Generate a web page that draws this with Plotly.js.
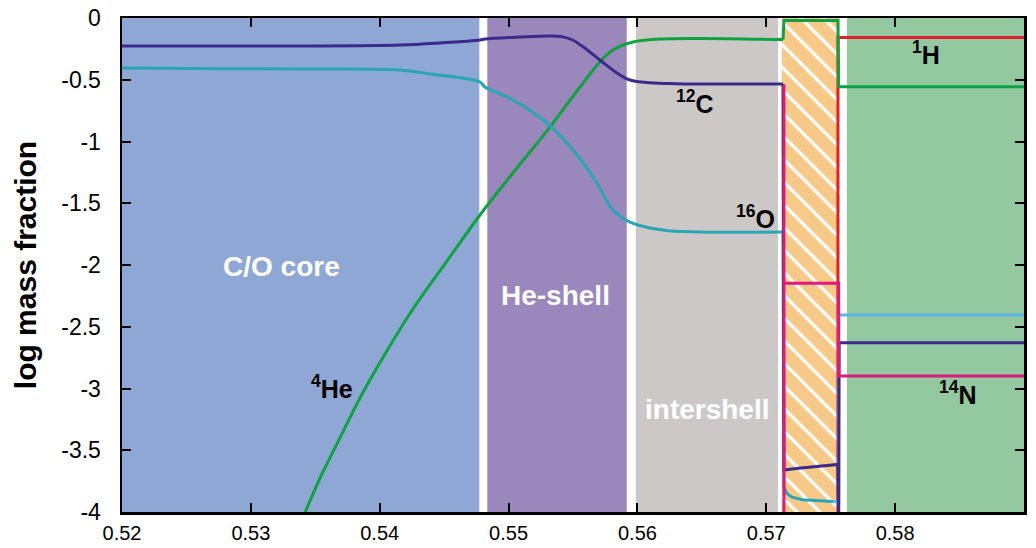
<!DOCTYPE html>
<html>
<head>
<meta charset="utf-8">
<script src="https://cdn.plot.ly/plotly-3.0.1.min.js"></script>
<style>html,body{margin:0;padding:0;background:#fff;}#chart{width:1036px;height:548px;}</style>
</head>
<body>
<div id="chart"></div>
<script>
// ---- data ----
const zoneNames  = ["C/O core", "He-shell", "intershell", "envelope"];
const zoneStart  = [0.5200, 0.54835, 0.55987, 0.57626];
const zoneEnd    = [0.54773, 0.55917, 0.57091, 0.5900];
const zoneColors = ["#8FA7D4", "#9A87BB", "#CDC8C8", "#93C8A0"];

// 13C pocket (hatched)
const pocketStart  = 0.57120;
const pocketEnd    = 0.57568;
const pocketTop    = 0.0;
const pocketBottom = -4.0;

// 12C : smooth profile (core -> intershell), then pocket / envelope steps
const c12_x = [0.5200, 0.52800, 0.53381, 0.54157, 0.54468, 0.54778, 0.54817, 0.55089, 0.55321, 0.55420, 0.55500, 0.55580, 0.55709, 0.55841, 0.55942, 0.56100, 0.56300, 0.56486, 0.57130];
const c12_y = [-0.227, -0.227, -0.227, -0.219, -0.202, -0.178, -0.170, -0.154, -0.146, -0.153, -0.180, -0.235, -0.340, -0.445, -0.502, -0.525, -0.532, -0.534, -0.534];
const c12s_x = [0.57130, 0.57137, 0.5725, 0.5740, 0.57555, 0.57562, 0.57565, 0.5900];
const c12s_y = [-0.534, -3.66, -3.645, -3.63, -3.615, -4.10, -2.63, -2.63];

// 16O
const o16_x = [0.5200, 0.52800, 0.53381, 0.54157, 0.54390, 0.54778, 0.54817, 0.55034, 0.55298, 0.55500, 0.55686, 0.55810, 0.55942, 0.56198, 0.56486, 0.57130];
const o16_y = [-0.405, -0.410, -0.413, -0.421, -0.453, -0.518, -0.559, -0.664, -0.850, -1.069, -1.336, -1.555, -1.652, -1.717, -1.733, -1.733];
const o16s_x = [0.57130, 0.57137, 0.57160, 0.5720, 0.5728, 0.5740, 0.5752];
const o16s_y = [-1.733, -3.80, -3.85, -3.88, -3.90, -3.91, -3.915];
const o16env_x = [0.5752, 0.57562, 0.57562, 0.5900];
const o16env_y = [-3.915, -3.92, -2.405, -2.405];

// 4He
const he4_x = [0.53410, 0.53537, 0.53668, 0.53847, 0.54041, 0.54258, 0.54522, 0.54778, 0.55034, 0.55321, 0.55531, 0.55709, 0.55810, 0.55966, 0.56175, 0.56486, 0.57130];
const he4_y = [-4.03, -3.725, -3.449, -3.077, -2.721, -2.356, -1.968, -1.595, -1.255, -0.883, -0.591, -0.356, -0.259, -0.194, -0.170, -0.165, -0.175];
const he4s_x = [0.57130, 0.57137, 0.57556, 0.57562, 0.5900];
const he4s_y = [-0.175, -0.02, -0.02, -0.556, -0.556];

// 1H
const h1_x = [0.57556, 0.57556, 0.5900];
const h1_y = [-4.10, -0.157, -0.157];

// 14N
const n14_x = [0.57137, 0.57137, 0.57137, 0.57562, 0.57562, 0.5900];
const n14_y = [-4.10, -0.54, -2.148, -2.148, -2.899, -2.899];

// axis ticks
const xTickVals = [0.52, 0.53, 0.54, 0.55, 0.56, 0.57, 0.58, 0.59];
const xTickText = ["0.52", "0.53", "0.54", "0.55", "0.56", "0.57", "0.58", "0.59"];
const yTickVals = [0, -0.5, -1, -1.5, -2, -2.5, -3, -3.5, -4];
const yTickText = ["0", "-0.5", "-1", "-1.5", "-2", "-2.5", "-3", "-3.5", "-4"];

// labels
const zoneLabels = ["C/O core", "He-shell", "intershell"];
const isoLabels  = ["<sup>12</sup>C", "<sup>16</sup>O", "<sup>4</sup>He", "<sup>1</sup>H", "<sup>14</sup>N"];

// ---- chart ----
const FONT = "Liberation Sans, Arial, Helvetica, sans-serif";

const shapes = zoneStart.map((s, i) => ({
  type: "rect", xref: "x", yref: "y", layer: "below",
  x0: s, x1: zoneEnd[i], y0: -4, y1: 0,
  fillcolor: zoneColors[i], line: {width: 0}
}));

function line(x, y, color, smooth) {
  return {type: "scatter", mode: "lines", x: x, y: y,
    line: {color: color, width: 3, shape: smooth ? "spline" : "linear", smoothing: 1},
    hoverinfo: "skip"};
}

const traces = [
  {
    type: "scatter", mode: "lines", fill: "toself",
    x: [pocketStart, pocketEnd, pocketEnd, pocketStart, pocketStart],
    y: [pocketBottom, pocketBottom, pocketTop, pocketTop, pocketBottom],
    line: {width: 0, color: "rgba(0,0,0,0)"},
    fillcolor: "#F7C988",
    fillpattern: {shape: "\\", fgcolor: "#FFFFFF", bgcolor: "#F7C988", size: 16, solidity: 0.2},
    hoverinfo: "skip"
  },
  line(h1_x, h1_y, "#E31E2D", false),
  line(he4_x, he4_y, "#0FA243", true),
  line(he4s_x, he4s_y, "#0FA243", false),
  line(o16_x, o16_y, "#2AA5B5", true),
  line(o16s_x, o16s_y, "#2AA5B5", false),
  line(o16env_x, o16env_y, "#5AB4E5", false),
  line(c12_x, c12_y, "#3B2A8C", true),
  line(c12s_x, c12s_y, "#3B2A8C", false),
  line(n14_x, n14_y, "#E0197D", false)
];

const ann = [];
const zonePos = [[0.53234, -2.016], [0.55368, -2.243], [0.56540, -3.174]];
zoneLabels.forEach((t, i) => ann.push({
  x: zonePos[i][0], y: zonePos[i][1], xref: "x", yref: "y", text: "<b>" + t + "</b>",
  showarrow: false, font: {family: FONT, size: 28, color: "#FFFFFF"}
}));
const isoPos = [[0.56445, -0.68], [0.56920, -1.611], [0.53630, -2.988], [0.58239, -0.283], [0.58488, -3.036]];
isoLabels.forEach((t, i) => ann.push({
  x: isoPos[i][0], y: isoPos[i][1], xref: "x", yref: "y", text: "<b>" + t + "</b>",
  showarrow: false, font: {family: FONT, size: 25, color: "#000000"}
}));

const layout = {
  width: 1036, height: 548,
  margin: {l: 122, r: 12, t: 18, b: 36, pad: 0},
  paper_bgcolor: "#FFFFFF", plot_bgcolor: "#FFFFFF",
  showlegend: false, hovermode: false,
  font: {family: FONT, color: "#000"},
  xaxis: {
    range: [0.52, 0.59], tickmode: "array", tickvals: xTickVals, ticktext: xTickText,
    ticks: "inside", ticklen: 9, tickwidth: 2, tickcolor: "#000", ticklabelstandoff: 1,
    showline: true, linewidth: 2.5, linecolor: "#000", mirror: "ticks",
    showgrid: false, zeroline: false, tickfont: {family: FONT, size: 20, color: "#000"}
  },
  yaxis: {
    range: [-4, 0], tickmode: "array", tickvals: yTickVals, ticktext: yTickText,
    ticks: "inside", ticklen: 9, tickwidth: 2, tickcolor: "#000", ticklabelstandoff: 14,
    showline: true, linewidth: 2.5, linecolor: "#000", mirror: "ticks",
    showgrid: false, zeroline: false, tickfont: {family: FONT, size: 23, color: "#000"},
    title: {text: "<b>log mass fraction</b>", font: {family: FONT, size: 30, color: "#000"}, standoff: 16}
  },
  shapes: shapes,
  annotations: ann
};

Plotly.newPlot("chart", traces, layout, {displayModeBar: false, staticPlot: true});
</script>
</body>
</html>
